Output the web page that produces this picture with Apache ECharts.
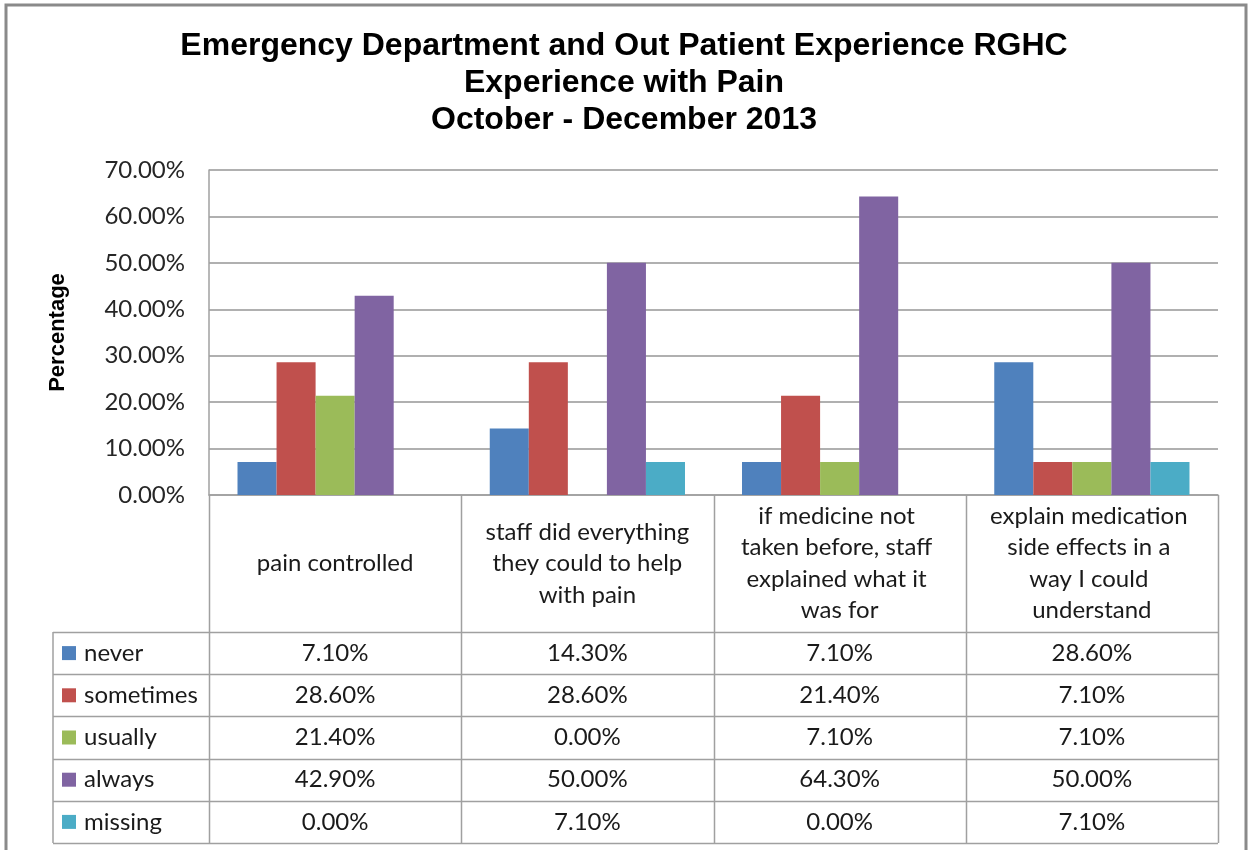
<!DOCTYPE html>
<html>
<head>
<meta charset="utf-8">
<script src="https://cdn.jsdelivr.net/npm/echarts@6/dist/echarts.min.js"></script>
<style>
	html, body { margin: 0; padding: 0; background: #fff; }
	#chartmain { width: 1248px; height: 850px; }
</style>
</head>
<body>
<div id="chartmain"></div>
<script>
var categories = ['pain controlled', 'staff did everything they could to help with pain',
	'if medicine not taken before, staff explained what it was for',
	'explain medication side effects in a way I could understand'];
var seriesNames = ['never', 'sometimes', 'usually', 'always', 'missing'];
var never = [7.1, 14.3, 7.1, 28.6];
var sometimes = [28.6, 28.6, 21.4, 7.1];
var usually = [21.4, 0, 7.1, 7.1];
var always = [42.9, 50, 64.3, 50];
var missing = [0, 7.1, 0, 7.1];
var yTicks = [0, 10, 20, 30, 40, 50, 60, 70];

var values = [never, sometimes, usually, always, missing];
var colors = ['#4F81BD', '#C0504D', '#9BBB59', '#8064A2', '#4BACC6'];

// plot area / table layout
var gLeft = 209, gRight = 1218, gTop = 170, gBottom = 495;
var headBottom = 632, rowH = 42.2, tableLeft = 53;
var colW = (gRight - gLeft) / categories.length;
var lineColor = '#a0a0a0';
var font = 'Lato, "Liberation Sans", sans-serif';
var tableFont = 24;

var graphics = [];
// outer frame
graphics.push({
	type : 'rect',
	shape : { x : 6, y : 5, width : 1240, height : 900 },
	style : { fill : 'none', stroke : '#8a8a8a', lineWidth : 3 },
	silent : true
});
// vertical table lines
for (var i = 0; i <= categories.length; i++) {
	var x = Math.round(gLeft + i * colW) + 0.5;
	graphics.push({
		type : 'line',
		shape : { x1 : x, y1 : gBottom, x2 : x, y2 : headBottom + rowH * seriesNames.length },
		style : { stroke : lineColor, lineWidth : 1.5 }
	});
}
graphics.push({
	type : 'line',
	shape : { x1 : tableLeft, y1 : headBottom, x2 : tableLeft, y2 : headBottom + rowH * seriesNames.length },
	style : { stroke : lineColor, lineWidth : 1.5 }
});
// horizontal table lines
for (var r = 0; r <= seriesNames.length; r++) {
	var y = Math.round(headBottom + r * rowH) + 0.5;
	graphics.push({
		type : 'line',
		shape : { x1 : tableLeft, y1 : y, x2 : gRight, y2 : y },
		style : { stroke : lineColor, lineWidth : 1.5 }
	});
}
// category header texts
for (var c = 0; c < categories.length; c++) {
	graphics.push({
		type : 'text',
		x : gLeft + (c + 0.5) * colW,
		y : (gBottom + headBottom) / 2,
		style : {
			text : categories[c],
			width : 207,
			overflow : 'break',
			align : 'center',
			verticalAlign : 'middle',
			fontSize : tableFont,
			lineHeight : 31.5,
			fontFamily : font,
			fill : '#1a1a1a'
		}
	});
}
// legend keys + values
for (var s = 0; s < seriesNames.length; s++) {
	var cy = headBottom + (s + 0.5) * rowH;
	graphics.push({
		type : 'rect',
		shape : { x : 62, y : cy - 7, width : 14, height : 14 },
		style : { fill : colors[s] }
	});
	graphics.push({
		type : 'text',
		x : 84,
		y : cy,
		style : {
			text : seriesNames[s],
			verticalAlign : 'middle',
			fontSize : tableFont,
			fontFamily : font,
			fill : '#1a1a1a'
		}
	});
	for (var c2 = 0; c2 < categories.length; c2++) {
		graphics.push({
			type : 'text',
			x : gLeft + (c2 + 0.5) * colW,
			y : cy,
			style : {
				text : values[s][c2].toFixed(2) + '%',
				align : 'center',
				verticalAlign : 'middle',
				fontSize : tableFont,
				fontFamily : font,
				fill : '#1a1a1a'
			}
		});
	}
}

var series = [];
for (var k = 0; k < seriesNames.length; k++) {
	series.push({
		name : seriesNames[k],
		type : 'bar',
		data : values[k],
		barGap : 0,
		barCategoryGap : '22.6%',
		itemStyle : { color : colors[k] }
	});
}

var option = {
	animation : false,
	title : {
		text : 'Emergency Department and Out Patient Experience RGHC\nExperience with Pain\nOctober - December 2013',
		left : 'center',
		top : 28,
		padding : 0,
		textStyle : {
			fontFamily : '"Liberation Sans", Arial, sans-serif',
			fontWeight : 'bold',
			fontSize : 32,
			lineHeight : 37,
			color : '#000'
		}
	},
	grid : {
		left : gLeft,
		right : 1248 - gRight,
		top : gTop,
		bottom : 850 - gBottom,
		containLabel : false
	},
	xAxis : {
		type : 'category',
		data : categories,
		axisLabel : { show : false },
		axisTick : { show : false },
		axisLine : { lineStyle : { color : lineColor, width : 1.5 } }
	},
	yAxis : {
		type : 'value',
		min : yTicks[0],
		max : yTicks[yTicks.length - 1],
		interval : 10,
		name : 'Percentage',
		nameLocation : 'middle',
		nameRotate : 90,
		nameGap : 140,
		nameTextStyle : {
			fontFamily : '"Liberation Sans", Arial, sans-serif',
			fontWeight : 'bold',
			fontSize : 22,
			color : '#000'
		},
		axisLine : { show : true, lineStyle : { color : lineColor, width : 1.5 } },
		axisTick : { show : false },
		axisLabel : {
			margin : 24,
			fontSize : 24,
			fontFamily : font,
			color : '#262626',
			formatter : function(v) { return v.toFixed(2) + '%'; }
		},
		splitLine : { lineStyle : { color : '#969696', width : 1.5 } }
	},
	graphic : graphics,
	series : series
};

var myChart = echarts.init(document.getElementById('chartmain'));
myChart.setOption(option);
</script>
</body>
</html>
